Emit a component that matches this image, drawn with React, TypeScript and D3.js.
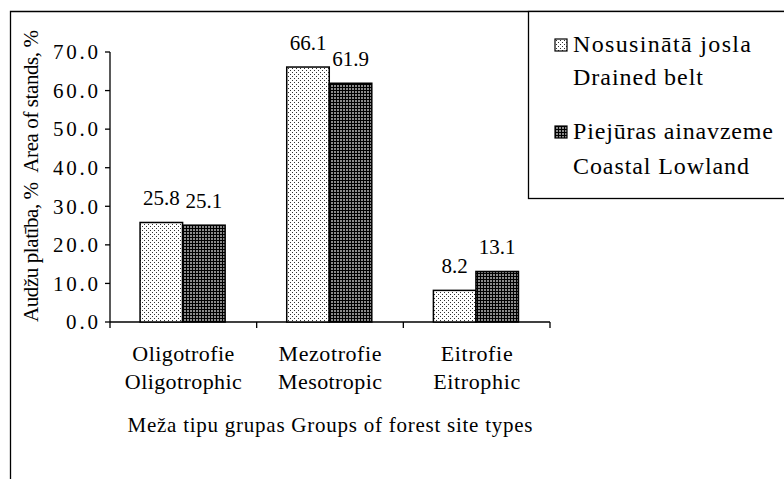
import React from "react";
import * as d3 from "d3";

const categoriesLv = ["Oligotrofie", "Mezotrofie", "Eitrofie"];
const categoriesEn = ["Oligotrophic", "Mesotropic", "Eitrophic"];
const seriesNames = [
  ["Nosusinātā josla", "Drained belt"],
  ["Piejūras ainavzeme", "Coastal Lowland"],
];
const drainedBelt = [25.8, 66.1, 8.2];
const coastalLowland = [25.1, 61.9, 13.1];
const yTicks = [0, 10, 20, 30, 40, 50, 60, 70];
const yAxisTitle = "Audžu platība, %\u00A0\u00A0Area of stands, %";
const xAxisTitle = "Meža tipu grupas Groups of forest site types";

const FONT = "'Liberation Serif', 'Times New Roman', serif";

export default function App() {
  const left = 110, right = 550, top = 52, bottom = 322;
  const x0 = d3.scaleBand<number>().domain([0, 1, 2]).range([left, right]).padding(0);
  const y = d3.scaleLinear().domain([0, 70]).range([bottom, top]);
  const bw = x0.bandwidth();
  const x1 = d3.scaleBand<number>().domain([0, 1]).range([bw * 0.205, bw * 0.205 + bw * 0.58]).padding(0);
  const series = [drainedBelt, coastalLowland];
  const fills = ["url(#pLight)", "url(#pDark)"];
  const fmt = d3.format(".1f");
  const catLvWidths = [102, 103, 72];
  const catEnWidths = [117, 104, 87];
  const legendWidths = [[178, 130], [200, 176]];

  return (
    <svg width={784} height={479} style={{ position: "absolute", left: 0, top: 0, background: "#fff" }} fontFamily={FONT}>
      <defs>
        <pattern id="pLight" width={4} height={4} patternUnits="userSpaceOnUse">
          <rect width={4} height={4} fill="#fff" />
          <rect x={0} y={0} width={1} height={1} fill="#333" />
          <rect x={2} y={2} width={1} height={1} fill="#333" />
        </pattern>
        <pattern id="pDark" width={3} height={3} patternUnits="userSpaceOnUse">
          <rect width={3} height={3} fill="#000" />
          <rect x={1} y={1} width={2} height={2} fill="#8a8a8a" />
        </pattern>
      </defs>
      <path d="M10.5,479 V11.5 H784" fill="none" stroke="#000" strokeWidth={1.3} />

      {/* y axis */}
      <line x1={left} x2={left} y1={y(0)} y2={y(70)} stroke="#000" strokeWidth={1.3} />
      {yTicks.map((t) => (
        <g key={t}>
          <line x1={left - 5} x2={left} y1={y(t)} y2={y(t)} stroke="#000" strokeWidth={1.3} />
          <text x={98} y={y(t)} dy="0.35em" textAnchor="end" fontSize={21} textLength={t === 0 ? 32 : 45} lengthAdjust="spacing">
            {fmt(t)}
          </text>
        </g>
      ))}
      {/* x axis */}
      <line x1={left} x2={right} y1={bottom} y2={bottom} stroke="#000" strokeWidth={1.3} />
      {[0, 1, 2, 3].map((i) => {
        const xx = left + i * bw;
        return <line key={i} x1={xx} x2={xx} y1={bottom} y2={bottom + 6} stroke="#000" strokeWidth={1.3} />;
      })}

      {/* bars */}
      {series.map((vals, s) =>
        vals.map((v, i) => {
          const bx = (x0(i) as number) + (x1(s) as number);
          return (
            <g key={`${s}-${i}`}>
              <rect x={bx} y={y(v)} width={x1.bandwidth()} height={y(0) - y(v)} fill={fills[s]} stroke="#000" strokeWidth={1.5} />
              <text x={bx + x1.bandwidth() / 2} y={y(v) - 17} textAnchor="middle" fontSize={21}>
                {fmt(v)}
              </text>
            </g>
          );
        })
      )}

      {/* category labels */}
      {categoriesLv.map((c, i) => {
        const cx = (x0(i) as number) + bw / 2;
        return (
          <g key={c}>
            <text x={cx} y={361} textAnchor="middle" fontSize={22} textLength={catLvWidths[i]} lengthAdjust="spacing">{c}</text>
            <text x={cx} y={389} textAnchor="middle" fontSize={22} textLength={catEnWidths[i]} lengthAdjust="spacing">{categoriesEn[i]}</text>
          </g>
        );
      })}
      <text x={(left + right) / 2} y={432} textAnchor="middle" fontSize={21} textLength={405} lengthAdjust="spacing">
        {xAxisTitle}
      </text>
      <text transform="translate(38,176) rotate(-90)" textAnchor="middle" fontSize={21} textLength={292} lengthAdjust="spacing">
        {yAxisTitle}
      </text>

      {/* legend */}
      <rect x={528.5} y={11.5} width={270} height={187} fill="#fff" stroke="#000" strokeWidth={1.3} />
      {seriesNames.map((names, s) => {
        const base = s === 0 ? 52 : 139;
        const second = s === 0 ? 85 : 174;
        return (
          <g key={s}>
            <rect x={555} y={base - 13} width={12} height={12} fill={fills[s]} stroke="#000" strokeWidth={1.2} />
            <text x={573} y={base} fontSize={24} textLength={legendWidths[s][0]} lengthAdjust="spacing">{names[0]}</text>
            <text x={573} y={second} fontSize={24} textLength={legendWidths[s][1]} lengthAdjust="spacing">{names[1]}</text>
          </g>
        );
      })}
    </svg>
  );
}
